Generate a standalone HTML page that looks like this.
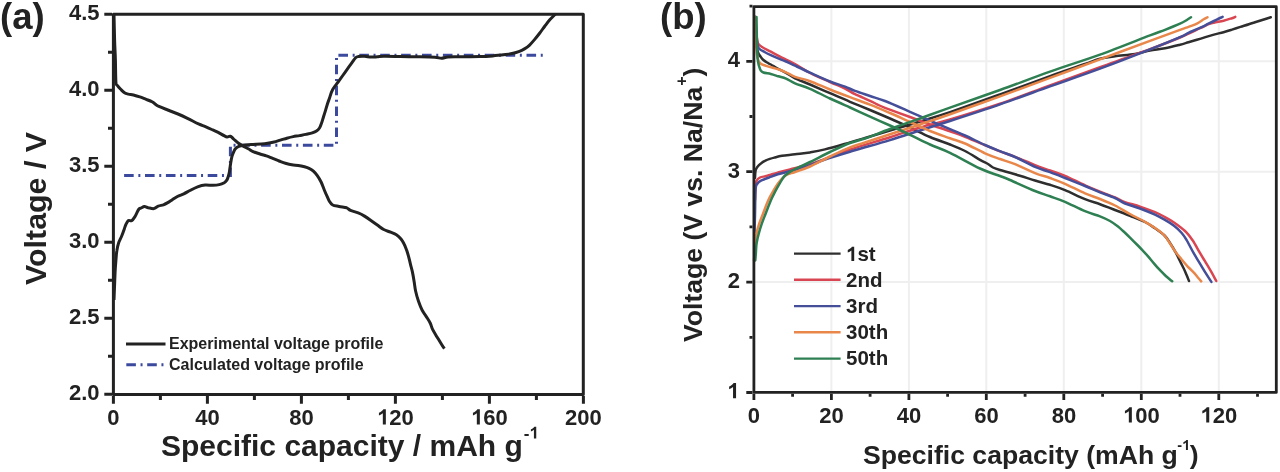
<!DOCTYPE html>
<html><head><meta charset="utf-8"><style>
html,body{margin:0;padding:0;background:#fff;}
svg{display:block;filter:blur(0.55px);}
text{font-family:"Liberation Sans",sans-serif;font-weight:bold;fill:#222;}
</style></head><body>
<svg width="1280" height="472" viewBox="0 0 1280 472">
<defs><path id="one1" d="M819 0H538V1059Q384 915 175 846V1101Q285 1137 414 1237Q543 1337 591 1425H819V0Z" fill="#222"/></defs>
<rect width="1280" height="472" fill="#fff"/>
<!-- Panel A -->
<g fill="none" stroke="#222" stroke-width="3">
<path d="M113.4,14.3H583.3V394.5H113.4Z" stroke-linejoin="round"/>
<path d="M112.0,394.3H104.3 M112.0,356.3H108.0 M112.0,318.3H104.3 M112.0,280.3H108.0 M112.0,242.3H104.3 M112.0,204.3H108.0 M112.0,166.3H104.3 M112.0,128.3H108.0 M112.0,90.3H104.3 M112.0,52.3H108.0 M112.0,14.3H104.3 M113.4,396.0V403.7 M160.4,396.0V400.0 M207.4,396.0V403.7 M254.4,396.0V400.0 M301.4,396.0V403.7 M348.4,396.0V400.0 M395.4,396.0V403.7 M442.4,396.0V400.0 M489.4,396.0V403.7 M536.4,396.0V400.0 M583.4,396.0V403.7" stroke-width="3"/>
</g>
<path d="M124.1,175.4H230.4V145.2H336.5V55.3H543" fill="none" stroke="#3c4a9e" stroke-width="3" stroke-dasharray="9.6,4.65,2,4.65"/>
<path d="M114.0,14.5 C114.1,18.8 114.4,32.4 114.6,40.0 C114.8,47.6 115.2,53.0 115.4,60.0 C115.6,67.0 115.6,77.7 115.9,82.0 C116.2,86.3 116.7,84.4 117.5,85.6 C118.3,86.8 119.5,88.1 120.7,89.3 C121.9,90.5 123.2,92.0 124.5,92.8 C125.8,93.6 126.9,93.7 128.4,94.1 C129.9,94.5 131.5,94.5 133.4,95.0 C135.3,95.5 137.7,96.2 139.8,96.9 C141.9,97.6 144.1,98.6 146.2,99.4 C148.3,100.2 150.8,101.1 152.5,102.0 C154.2,102.9 155.2,104.3 156.3,105.0 C157.4,105.7 157.4,105.7 158.9,106.4 C160.4,107.1 163.2,108.2 165.3,109.0 C167.4,109.8 169.5,110.7 171.6,111.5 C173.7,112.3 175.5,113.0 178.0,114.0 C180.5,115.0 184.0,116.6 186.4,117.8 C188.8,119.0 190.6,119.9 192.7,121.0 C194.8,122.1 197.0,123.2 199.1,124.2 C201.2,125.2 203.3,125.8 205.4,126.7 C207.5,127.6 209.7,128.6 211.8,129.5 C213.9,130.4 216.1,131.3 218.2,132.4 C220.3,133.5 223.0,135.2 224.5,135.9 C226.0,136.7 226.1,136.8 227.1,136.9 C228.1,137.0 229.2,136.0 230.3,136.3 C231.4,136.6 232.0,137.6 233.4,138.8 C234.8,140.0 236.8,142.0 238.5,143.3 C240.2,144.6 241.9,145.5 243.6,146.4 C245.3,147.3 247.2,148.2 248.7,149.0 C250.2,149.8 250.6,150.5 252.5,151.3 C254.4,152.1 257.7,153.2 260.0,154.0 C262.3,154.8 264.3,155.2 266.4,155.9 C268.5,156.6 270.6,157.6 272.7,158.4 C274.8,159.2 277.0,160.2 279.1,161.0 C281.2,161.8 283.3,162.7 285.4,163.3 C287.5,163.9 289.7,164.5 291.8,164.8 C293.9,165.2 296.1,165.1 298.2,165.4 C300.3,165.7 302.6,166.2 304.5,166.7 C306.4,167.2 308.1,167.8 309.6,168.6 C311.1,169.3 312.1,170.0 313.4,171.2 C314.7,172.4 316.0,173.8 317.3,175.6 C318.6,177.4 319.9,179.6 321.1,182.0 C322.3,184.4 323.3,187.6 324.3,190.0 C325.3,192.4 326.1,194.3 327.0,196.2 C327.9,198.1 328.6,200.0 329.5,201.5 C330.4,203.0 331.1,204.2 332.7,205.0 C334.3,205.8 336.8,206.0 339.1,206.5 C341.4,207.0 344.8,207.2 346.7,207.8 C348.6,208.5 348.6,209.6 350.5,210.4 C352.4,211.2 355.9,212.0 358.2,212.9 C360.5,213.8 362.4,214.8 364.5,216.1 C366.6,217.4 368.8,219.0 370.9,220.5 C373.0,222.0 375.2,223.5 377.3,225.0 C379.4,226.5 381.5,228.3 383.7,229.5 C385.9,230.7 388.4,231.3 390.5,232.2 C392.6,233.1 394.6,233.7 396.4,234.8 C398.1,235.9 399.7,237.4 401.0,238.9 C402.3,240.4 403.2,242.1 404.1,244.0 C405.1,245.9 405.9,248.2 406.7,250.3 C407.4,252.4 408.0,254.4 408.6,256.7 C409.2,259.0 409.9,261.8 410.5,264.3 C411.1,266.8 411.8,268.9 412.4,271.9 C413.0,274.8 413.7,278.8 414.2,282.0 C414.7,285.2 414.9,287.8 415.6,291.0 C416.3,294.2 417.4,298.1 418.5,301.3 C419.6,304.5 420.7,307.4 422.2,310.2 C423.7,313.0 426.0,316.1 427.4,318.3 C428.8,320.5 429.5,321.6 430.4,323.5 C431.3,325.4 431.5,327.2 432.6,329.4 C433.7,331.6 435.5,334.4 437.0,336.9 C438.5,339.4 440.3,342.3 441.5,344.3 C442.7,346.3 443.9,348.0 444.4,348.7" fill="none" stroke="#222" stroke-width="3" stroke-linejoin="round"/>
<path d="M114.0,300.0 C114.1,297.8 114.3,291.7 114.5,287.0 C114.7,282.3 114.9,276.4 115.1,272.0 C115.3,267.6 115.6,264.0 115.9,260.5 C116.2,257.0 116.3,253.9 116.8,251.0 C117.2,248.1 117.8,245.4 118.6,243.0 C119.4,240.6 120.5,238.8 121.5,236.5 C122.5,234.2 123.6,231.0 124.3,229.0 C125.0,227.0 125.2,225.9 125.9,224.5 C126.6,223.1 127.5,221.2 128.4,220.6 C129.3,220.0 130.5,221.3 131.6,220.7 C132.7,220.1 133.6,218.8 134.8,216.9 C136.0,215.0 137.5,211.0 138.6,209.5 C139.7,208.0 140.2,208.5 141.2,208.0 C142.2,207.5 143.2,206.6 144.4,206.5 C145.6,206.4 146.6,207.3 148.2,207.7 C149.8,208.0 152.2,208.9 153.9,208.6 C155.6,208.3 156.7,206.7 158.3,206.1 C159.9,205.5 161.9,205.3 163.4,204.8 C164.9,204.3 165.8,203.8 167.3,202.9 C168.8,202.1 170.6,200.8 172.3,199.7 C174.0,198.6 175.5,197.5 177.4,196.5 C179.3,195.5 181.7,194.8 183.8,193.8 C185.9,192.8 187.7,191.7 190.0,190.5 C192.3,189.3 195.1,187.7 197.6,186.8 C200.1,185.9 202.6,185.2 205.2,185.0 C207.8,184.8 210.6,185.4 212.9,185.3 C215.2,185.2 217.3,185.0 219.2,184.6 C221.1,184.2 223.0,183.4 224.3,182.7 C225.6,182.0 226.2,181.1 226.8,180.2 C227.4,179.2 227.7,178.4 228.1,177.0 C228.5,175.6 229.0,174.2 229.4,171.9 C229.8,169.6 230.3,165.5 230.7,163.0 C231.1,160.5 231.4,158.6 231.9,156.7 C232.4,154.8 233.2,153.0 233.8,151.6 C234.4,150.2 234.8,149.3 235.7,148.4 C236.5,147.5 237.6,146.8 238.9,146.3 C240.2,145.8 241.4,145.5 243.4,145.2 C245.4,144.9 248.0,144.8 251.0,144.6 C254.0,144.4 258.6,144.3 261.4,144.1 C264.2,143.9 265.6,143.7 267.7,143.3 C269.8,143.0 272.0,142.5 274.1,142.0 C276.2,141.5 278.3,140.7 280.4,140.1 C282.5,139.5 284.7,138.8 286.8,138.2 C288.9,137.6 291.1,137.0 293.2,136.6 C295.3,136.2 297.4,136.0 299.5,135.6 C301.6,135.2 303.8,134.9 305.9,134.4 C308.0,133.9 310.5,133.4 312.3,132.8 C314.1,132.2 315.3,131.8 316.5,131.0 C317.7,130.2 318.6,129.3 319.5,128.0 C320.4,126.7 320.9,124.8 321.6,122.9 C322.3,121.0 322.9,118.6 323.6,116.5 C324.3,114.4 325.0,112.3 325.6,110.2 C326.2,108.1 326.9,105.7 327.5,103.8 C328.1,101.9 328.3,101.4 329.2,99.0 C330.1,96.6 331.0,92.6 332.7,89.6 C334.4,86.5 337.0,83.7 339.1,80.7 C341.2,77.7 343.3,74.8 345.4,71.8 C347.5,68.8 350.1,65.2 351.8,62.9 C353.5,60.6 354.5,58.9 355.6,57.8 C356.7,56.7 357.1,56.8 358.6,56.5 C360.1,56.2 362.4,56.2 364.5,56.3 C366.6,56.4 368.8,56.9 370.9,57.0 C373.0,57.1 375.2,56.9 377.3,56.8 C379.4,56.7 379.8,56.3 383.6,56.3 C387.4,56.2 393.9,56.4 400.0,56.5 C406.1,56.6 414.2,56.7 420.0,56.8 C425.8,56.9 431.4,57.0 435.0,57.2 C438.6,57.5 439.3,58.3 441.5,58.3 C443.7,58.3 444.9,57.2 448.0,57.0 C451.1,56.8 454.7,56.9 460.0,56.8 C465.3,56.7 474.6,56.6 480.0,56.5 C485.4,56.4 488.5,56.2 492.7,55.9 C496.9,55.6 502.0,55.0 505.4,54.6 C508.8,54.2 510.8,53.8 513.1,53.3 C515.4,52.8 517.5,52.1 519.4,51.4 C521.3,50.7 522.8,49.9 524.5,48.9 C526.2,47.9 527.9,46.7 529.6,45.1 C531.3,43.5 533.0,41.4 534.7,39.4 C536.4,37.4 538.1,35.2 539.8,33.0 C541.5,30.8 543.2,28.2 544.9,26.0 C546.6,23.8 548.2,21.6 550.0,19.6 C551.8,17.6 554.6,14.9 555.5,14.0" fill="none" stroke="#222" stroke-width="3" stroke-linejoin="round"/>
<path d="M126,344H165.5" stroke="#222" stroke-width="3"/>
<path d="M126.3,364.7H164" stroke="#3c4a9e" stroke-width="3" stroke-dasharray="9.6,4.65,2,4.65"/>
<text x="169" y="349" font-size="16">Experimental voltage profile</text>
<text x="169" y="369.5" font-size="16">Calculated voltage profile</text>
<text x="0" y="29" font-size="36.5">(a)</text>
<g font-size="22" text-anchor="end">
<text x="99.6" y="20">4.5</text>
<text x="99.6" y="96">4.0</text>
<text x="99.6" y="172">3.5</text>
<text x="99.6" y="248">3.0</text>
<text x="99.6" y="324">2.5</text>
<text x="99.6" y="400.2">2.0</text>
</g>
<g><text x="107.28" y="424.60" font-size="22">0</text><text x="195.16" y="424.60" font-size="22">4</text><text x="207.40" y="424.60" font-size="22">0</text><text x="289.16" y="424.60" font-size="22">8</text><text x="301.40" y="424.60" font-size="22">0</text><use href="#one1" transform="translate(377.05,424.60) scale(0.01074,-0.01074)"/><text x="389.28" y="424.60" font-size="22">2</text><text x="401.52" y="424.60" font-size="22">0</text><use href="#one1" transform="translate(471.05,424.60) scale(0.01074,-0.01074)"/><text x="483.28" y="424.60" font-size="22">6</text><text x="495.52" y="424.60" font-size="22">0</text><text x="565.05" y="424.60" font-size="22">2</text><text x="577.28" y="424.60" font-size="22">0</text><text x="589.52" y="424.60" font-size="22">0</text></g>
<text x="161" y="456" font-size="30">Specific capacity / mAh g<tspan font-size="17" dx="1" dy="-17.5">-</tspan></text><use href="#one1" transform="translate(529.45,438.50) scale(0.00830,-0.00830)"/>
<text transform="translate(45.5,285) rotate(-90)" font-size="30.4">Voltage / V</text>

<!-- Panel B -->
<path d="M831.4,8V391 M908.9,8V391 M986.3,8V391 M1063.8,8V391 M1141.3,8V391 M1218.8,8V391 M755,282.1H1275 M755,171.7H1275 M755,61.3H1275" stroke="#efefef" stroke-width="2" fill="none"/>
<g fill="none" stroke-width="2.5" stroke-linejoin="round" stroke-linecap="round">
<path d="M755.0,178.0 C755.1,176.8 755.2,172.3 755.6,170.5 C756.0,168.7 756.4,168.1 757.3,166.9 C758.2,165.7 759.5,164.4 760.9,163.4 C762.2,162.4 763.9,161.4 765.4,160.7 C766.9,159.9 768.3,159.4 769.8,158.9 C771.3,158.4 772.3,158.1 774.3,157.6 C776.3,157.1 778.5,156.4 782.0,155.8 C785.5,155.2 790.3,154.9 795.0,154.3 C799.7,153.7 805.0,153.2 810.0,152.4 C815.0,151.6 818.3,151.1 825.0,149.4 C831.7,147.7 843.3,144.3 850.0,142.4 C856.7,140.5 858.3,140.0 865.0,138.0 C871.7,136.0 880.8,133.2 890.0,130.5 C899.2,127.8 910.0,124.6 920.0,121.5 C930.0,118.4 936.7,116.6 950.0,112.1 C963.3,107.6 983.3,100.4 1000.0,94.4 C1016.7,88.4 1035.8,81.2 1050.0,76.1 C1064.2,71.0 1076.7,66.9 1085.0,64.0 C1093.3,61.1 1095.0,60.1 1100.0,58.8 C1105.0,57.5 1109.2,57.1 1115.0,56.3 C1120.8,55.5 1129.2,54.8 1135.0,53.9 C1140.8,53.0 1145.0,51.5 1150.0,50.6 C1155.0,49.7 1160.0,49.3 1165.0,48.3 C1170.0,47.3 1176.1,45.7 1180.0,44.7 C1183.9,43.7 1185.7,43.0 1188.5,42.2 C1191.3,41.4 1194.1,40.6 1196.9,39.7 C1199.7,38.9 1202.6,38.0 1205.4,37.1 C1208.2,36.2 1210.9,35.4 1213.9,34.6 C1216.9,33.8 1220.5,33.0 1223.5,32.2 C1226.5,31.4 1229.2,30.5 1232.0,29.6 C1234.8,28.7 1237.6,27.8 1240.4,26.9 C1243.2,26.0 1246.5,25.0 1248.9,24.2 C1251.3,23.4 1252.7,23.1 1255.0,22.3 C1257.3,21.6 1260.4,20.6 1263.0,19.7 C1265.6,18.8 1269.5,17.6 1270.8,17.2" stroke="#2e2e2e"/>
<path d="M755.5,17.0 C755.6,20.8 756.0,34.7 756.3,40.0 C756.6,45.3 756.8,46.8 757.2,49.0 C757.6,51.2 758.0,52.2 758.5,53.5 C759.0,54.8 759.7,55.4 760.5,56.5 C761.3,57.6 762.3,59.0 763.4,60.0 C764.5,61.0 765.8,61.8 767.0,62.5 C768.2,63.2 768.9,63.4 770.8,64.5 C772.7,65.6 775.7,67.5 778.2,68.9 C780.7,70.3 783.2,71.2 786.0,72.8 C788.8,74.4 791.0,76.3 795.0,78.3 C799.0,80.2 804.2,82.0 810.0,84.5 C815.8,87.0 823.3,90.3 830.0,93.2 C836.7,96.1 843.3,99.0 850.0,101.8 C856.7,104.6 863.3,107.2 870.0,110.0 C876.7,112.8 883.3,115.6 890.0,118.5 C896.7,121.4 903.3,124.4 910.0,127.5 C916.7,130.6 923.3,134.2 930.0,137.0 C936.7,139.8 944.2,142.2 950.0,144.5 C955.8,146.8 960.0,148.4 965.0,151.0 C970.0,153.6 976.2,157.6 980.0,159.8 C983.8,162.0 985.8,162.7 988.0,164.0 C990.2,165.3 991.0,166.5 993.0,167.5 C995.0,168.5 996.3,168.9 1000.0,170.0 C1003.7,171.1 1009.2,172.4 1015.0,174.2 C1020.8,175.9 1029.2,178.7 1035.0,180.5 C1040.8,182.3 1045.0,183.2 1050.0,184.8 C1055.0,186.4 1059.2,187.7 1065.0,190.1 C1070.8,192.5 1079.2,196.8 1085.0,199.1 C1090.8,201.4 1095.0,202.4 1100.0,204.2 C1105.0,206.0 1110.0,208.1 1115.0,210.0 C1120.0,211.9 1125.0,213.8 1130.0,215.8 C1135.0,217.8 1140.8,219.9 1145.0,222.0 C1149.2,224.1 1151.8,226.1 1155.0,228.3 C1158.2,230.6 1162.0,233.1 1164.5,235.5 C1167.0,237.9 1168.1,240.1 1170.0,243.0 C1171.9,245.9 1174.2,249.8 1175.8,252.7 C1177.4,255.6 1178.4,257.9 1179.7,260.5 C1181.0,263.1 1182.4,265.9 1183.6,268.3 C1184.8,270.7 1185.7,273.0 1186.6,275.1 C1187.5,277.2 1188.6,280.0 1189.0,281.0" stroke="#2e2e2e"/>
<path d="M755.0,200.0 C755.1,198.0 755.2,191.2 755.5,188.0 C755.8,184.8 755.8,182.8 756.5,181.0 C757.2,179.2 758.5,178.3 760.0,177.5 C761.5,176.7 763.8,176.7 765.4,176.3 C767.0,175.9 767.7,175.5 769.8,174.9 C771.9,174.3 774.4,173.5 777.8,172.6 C781.2,171.7 784.6,170.9 790.0,169.5 C795.4,168.1 804.2,166.1 810.0,164.3 C815.8,162.5 818.3,161.3 825.0,158.8 C831.7,156.3 839.2,153.1 850.0,149.5 C860.8,145.9 878.3,140.9 890.0,137.2 C901.7,133.5 910.0,130.4 920.0,127.5 C930.0,124.5 936.7,123.5 950.0,119.5 C963.3,115.5 983.3,109.4 1000.0,103.7 C1016.7,98.0 1033.3,91.4 1050.0,85.3 C1066.7,79.2 1083.3,73.2 1100.0,67.2 C1116.7,61.2 1136.7,54.2 1150.0,49.2 C1163.3,44.2 1171.7,41.0 1180.0,37.5 C1188.3,34.0 1195.3,30.4 1200.0,28.2 C1204.7,26.0 1205.7,25.3 1208.0,24.4 C1210.3,23.5 1211.3,23.3 1213.9,22.7 C1216.5,22.1 1220.5,21.4 1223.5,20.7 C1226.5,19.9 1230.0,18.8 1232.0,18.2 C1234.0,17.6 1234.8,17.1 1235.3,16.9" stroke="#d94652"/>
<path d="M755.5,17.0 C755.6,19.7 756.0,29.0 756.3,33.0 C756.6,37.0 757.1,39.2 757.5,41.0 C757.9,42.8 757.6,43.0 758.4,44.0 C759.1,45.0 759.9,45.7 762.0,47.0 C764.1,48.3 767.8,50.1 770.8,51.7 C773.8,53.3 777.5,55.3 780.0,56.6 C782.5,57.9 783.5,58.3 786.0,59.6 C788.5,60.9 791.0,62.0 795.0,64.2 C799.0,66.4 804.2,70.0 810.0,73.0 C815.8,76.0 824.2,79.4 830.0,82.0 C835.8,84.6 840.8,86.5 845.0,88.5 C849.2,90.5 850.8,92.2 855.0,94.2 C859.2,96.2 866.3,99.1 870.0,100.8 C873.7,102.5 874.5,103.1 877.0,104.3 C879.5,105.5 879.5,105.7 885.0,107.8 C890.5,109.9 902.5,114.2 910.0,117.0 C917.5,119.8 923.3,122.1 930.0,124.5 C936.7,126.9 944.2,129.2 950.0,131.3 C955.8,133.4 956.7,133.5 965.0,136.8 C973.3,140.1 991.7,148.0 1000.0,151.3 C1008.3,154.7 1009.2,154.6 1015.0,156.9 C1020.8,159.2 1029.2,162.8 1035.0,165.1 C1040.8,167.4 1045.0,168.7 1050.0,170.5 C1055.0,172.3 1059.2,173.3 1065.0,175.8 C1070.8,178.3 1079.2,182.7 1085.0,185.3 C1090.8,187.9 1095.0,189.6 1100.0,191.6 C1105.0,193.6 1110.8,195.7 1115.0,197.4 C1119.2,199.2 1120.8,200.6 1125.0,202.1 C1129.2,203.6 1135.0,204.9 1140.0,206.6 C1145.0,208.3 1150.9,210.5 1155.0,212.2 C1159.1,213.9 1161.3,215.1 1164.5,216.8 C1167.7,218.5 1170.6,220.1 1174.0,222.5 C1177.4,224.9 1181.9,228.1 1185.0,231.0 C1188.1,233.9 1190.0,236.6 1192.4,240.0 C1194.8,243.4 1197.1,248.1 1199.2,251.7 C1201.3,255.3 1203.1,258.1 1205.1,261.4 C1207.0,264.6 1209.0,267.9 1210.9,271.2 C1212.8,274.5 1215.4,279.4 1216.3,281.0" stroke="#d94652"/>
<path d="M754.5,232.0 C754.6,229.2 754.8,222.1 755.0,215.0 C755.2,207.9 755.2,194.4 755.6,189.2 C756.0,184.0 756.4,185.2 757.3,183.8 C758.2,182.4 759.5,181.5 760.9,180.7 C762.2,179.9 763.9,179.5 765.4,178.9 C766.9,178.3 767.7,178.0 769.8,177.2 C771.9,176.4 774.4,175.3 777.8,174.3 C781.2,173.3 784.6,172.7 790.0,171.2 C795.4,169.7 804.2,167.2 810.0,165.3 C815.8,163.4 818.3,161.8 825.0,159.5 C831.7,157.2 843.3,153.7 850.0,151.7 C856.7,149.7 858.3,149.2 865.0,147.3 C871.7,145.4 880.8,142.9 890.0,140.1 C899.2,137.3 910.0,133.7 920.0,130.5 C930.0,127.3 936.7,125.3 950.0,121.0 C963.3,116.7 983.3,110.2 1000.0,104.4 C1016.7,98.6 1033.3,92.4 1050.0,86.4 C1066.7,80.5 1083.3,74.9 1100.0,68.7 C1116.7,62.5 1136.7,54.7 1150.0,49.4 C1163.3,44.1 1173.6,39.9 1180.0,37.1 C1186.4,34.4 1185.7,34.2 1188.5,32.9 C1191.3,31.6 1194.1,30.4 1196.9,29.1 C1199.7,27.8 1202.6,26.7 1205.4,25.3 C1208.2,23.9 1211.6,22.1 1213.9,21.0 C1216.2,19.9 1217.5,19.2 1219.0,18.5 C1220.5,17.8 1222.0,17.2 1222.6,16.9" stroke="#454f99"/>
<path d="M755.5,17.0 C755.6,20.2 756.0,31.4 756.3,36.0 C756.6,40.6 757.0,42.4 757.5,44.5 C758.0,46.6 757.8,47.2 759.0,48.5 C760.2,49.8 762.5,50.9 764.5,52.0 C766.5,53.1 768.2,54.0 770.8,55.2 C773.4,56.4 777.5,58.2 780.0,59.2 C782.5,60.2 783.5,60.4 786.0,61.5 C788.5,62.6 791.0,63.8 795.0,65.7 C799.0,67.6 804.2,70.1 810.0,72.7 C815.8,75.3 824.2,79.2 830.0,81.5 C835.8,83.8 840.8,85.0 845.0,86.6 C849.2,88.2 850.8,89.3 855.0,90.9 C859.2,92.5 865.0,94.3 870.0,96.0 C875.0,97.7 878.3,98.4 885.0,101.0 C891.7,103.6 902.5,108.5 910.0,111.8 C917.5,115.1 923.3,117.8 930.0,120.7 C936.7,123.6 944.2,126.7 950.0,129.2 C955.8,131.7 959.2,132.9 965.0,135.5 C970.8,138.1 979.2,142.4 985.0,145.0 C990.8,147.6 995.0,149.2 1000.0,151.2 C1005.0,153.2 1009.2,154.4 1015.0,157.0 C1020.8,159.6 1029.2,164.4 1035.0,166.9 C1040.8,169.4 1045.0,170.3 1050.0,172.2 C1055.0,174.0 1059.2,175.7 1065.0,178.0 C1070.8,180.3 1079.2,183.6 1085.0,186.0 C1090.8,188.4 1095.0,190.3 1100.0,192.3 C1105.0,194.3 1110.8,196.1 1115.0,198.0 C1119.2,199.9 1120.8,201.8 1125.0,203.5 C1129.2,205.2 1135.0,206.6 1140.0,208.5 C1145.0,210.4 1150.9,212.8 1155.0,214.7 C1159.1,216.5 1161.3,217.8 1164.5,219.6 C1167.7,221.4 1171.1,223.6 1174.0,225.8 C1176.9,228.0 1179.6,230.6 1181.7,233.0 C1183.8,235.4 1184.6,236.7 1186.6,240.0 C1188.5,243.3 1191.3,249.0 1193.4,252.7 C1195.5,256.4 1197.2,259.1 1199.2,262.4 C1201.2,265.6 1203.1,268.9 1205.1,272.2 C1207.1,275.4 1210.4,280.3 1211.4,281.9" stroke="#454f99"/>
<path d="M754.0,260.5 C754.1,259.2 754.4,256.1 754.6,252.6 C754.8,249.1 755.0,242.8 755.3,239.5 C755.6,236.2 756.0,235.5 756.6,232.9 C757.2,230.3 758.1,227.0 759.2,223.7 C760.3,220.4 761.7,217.1 763.2,213.2 C764.7,209.2 766.7,203.7 768.4,200.0 C770.1,196.3 771.8,193.5 773.4,190.8 C775.0,188.1 776.3,185.8 777.8,183.7 C779.3,181.6 780.8,179.9 782.3,178.4 C783.8,176.9 785.4,175.6 786.7,174.8 C788.0,174.0 788.6,174.0 790.0,173.5 C791.4,173.0 791.7,173.2 795.0,172.0 C798.3,170.8 804.2,169.1 810.0,166.5 C815.8,163.9 823.3,159.7 830.0,156.5 C836.7,153.3 844.2,149.6 850.0,147.3 C855.8,145.0 858.3,144.7 865.0,142.5 C871.7,140.3 880.8,137.2 890.0,134.2 C899.2,131.2 910.0,127.8 920.0,124.5 C930.0,121.2 936.7,119.0 950.0,114.3 C963.3,109.6 983.3,102.4 1000.0,96.3 C1016.7,90.2 1033.3,84.1 1050.0,77.9 C1066.7,71.8 1083.3,65.6 1100.0,59.4 C1116.7,53.2 1136.7,45.8 1150.0,40.9 C1163.3,36.0 1173.6,32.2 1180.0,29.9 C1186.4,27.6 1185.7,27.9 1188.5,26.9 C1191.3,25.8 1194.4,24.9 1196.9,23.6 C1199.4,22.3 1201.9,20.4 1203.7,19.3 C1205.5,18.2 1206.9,17.6 1207.5,17.2" stroke="#e9874a"/>
<path d="M755.5,17.0 C755.6,20.8 755.8,34.5 756.0,40.0 C756.2,45.5 756.2,47.0 756.5,50.0 C756.8,53.0 756.9,55.8 757.5,58.0 C758.1,60.2 759.0,62.2 760.4,63.5 C761.8,64.8 764.1,65.1 766.0,65.8 C767.9,66.5 769.8,66.9 772.0,67.5 C774.2,68.1 776.7,68.7 779.0,69.5 C781.3,70.3 783.3,71.1 786.0,72.3 C788.7,73.5 791.0,75.3 795.0,76.8 C799.0,78.3 804.2,79.1 810.0,81.2 C815.8,83.3 823.3,86.8 830.0,89.5 C836.7,92.2 843.3,94.7 850.0,97.2 C856.7,99.7 863.3,102.0 870.0,104.6 C876.7,107.2 883.3,110.1 890.0,113.0 C896.7,115.9 903.3,119.0 910.0,122.0 C916.7,125.0 923.3,128.3 930.0,131.0 C936.7,133.7 944.2,136.2 950.0,138.3 C955.8,140.4 959.2,141.0 965.0,143.5 C970.8,146.0 979.2,150.7 985.0,153.3 C990.8,155.9 995.0,157.2 1000.0,159.0 C1005.0,160.8 1009.2,161.8 1015.0,164.2 C1020.8,166.5 1029.2,170.8 1035.0,173.1 C1040.8,175.4 1045.0,176.2 1050.0,178.0 C1055.0,179.8 1059.2,181.2 1065.0,183.8 C1070.8,186.4 1079.2,190.9 1085.0,193.4 C1090.8,195.9 1095.0,197.0 1100.0,199.0 C1105.0,201.0 1110.0,203.0 1115.0,205.5 C1120.0,208.0 1125.0,211.3 1130.0,214.0 C1135.0,216.7 1140.8,219.5 1145.0,221.8 C1149.2,224.1 1151.8,225.7 1155.0,228.0 C1158.2,230.3 1162.0,232.9 1164.5,235.5 C1167.0,238.1 1168.1,240.7 1170.0,243.5 C1171.9,246.3 1173.8,249.5 1175.8,252.2 C1177.8,254.9 1179.8,257.1 1181.7,259.5 C1183.7,261.9 1185.5,264.2 1187.5,266.3 C1189.5,268.4 1191.6,270.2 1193.4,272.2 C1195.2,274.1 1197.0,276.5 1198.3,278.0 C1199.6,279.5 1200.7,280.8 1201.2,281.4" stroke="#e9874a"/>
<path d="M755.3,260.5 C755.4,259.2 755.7,255.4 755.9,252.6 C756.1,249.8 756.1,246.5 756.6,243.4 C757.1,240.3 757.7,237.5 758.6,234.2 C759.5,230.9 760.6,227.2 761.8,223.7 C763.0,220.2 764.3,217.1 765.8,213.2 C767.3,209.2 769.5,203.6 771.0,200.0 C772.5,196.4 773.7,194.4 775.1,191.7 C776.5,189.0 778.1,186.2 779.6,183.7 C781.1,181.2 782.5,178.4 784.0,176.6 C785.5,174.8 786.7,174.3 788.5,173.0 C790.3,171.7 791.4,170.8 795.0,169.0 C798.6,167.2 804.2,164.8 810.0,162.0 C815.8,159.2 823.3,155.2 830.0,152.0 C836.7,148.8 844.2,145.2 850.0,143.0 C855.8,140.8 858.3,140.8 865.0,138.5 C871.7,136.2 880.8,132.3 890.0,129.0 C899.2,125.7 910.0,122.1 920.0,118.5 C930.0,114.9 936.7,112.3 950.0,107.6 C963.3,102.8 983.3,96.0 1000.0,90.0 C1016.7,84.0 1033.3,77.5 1050.0,71.6 C1066.7,65.7 1083.3,60.6 1100.0,54.6 C1116.7,48.6 1139.2,39.5 1150.0,35.4 C1160.8,31.3 1160.0,31.8 1165.0,29.8 C1170.0,27.8 1176.7,25.1 1180.0,23.6 C1183.3,22.1 1183.3,22.1 1185.1,21.0 C1186.9,19.9 1190.0,17.8 1191.0,17.2" stroke="#2e7f52"/>
<path d="M756.5,17.0 C756.6,21.7 756.8,38.2 757.0,45.0 C757.2,51.8 757.4,54.8 757.6,58.0 C757.9,61.2 758.2,62.4 758.5,64.0 C758.8,65.6 759.1,66.4 759.5,67.5 C759.9,68.6 760.1,69.7 760.8,70.5 C761.4,71.3 761.7,71.9 763.4,72.5 C765.1,73.1 768.3,73.4 770.8,74.0 C773.3,74.6 775.7,75.5 778.2,76.3 C780.7,77.1 783.2,77.4 786.0,78.6 C788.8,79.8 791.0,81.6 795.0,83.3 C799.0,85.0 804.2,86.3 810.0,88.8 C815.8,91.3 823.3,95.4 830.0,98.5 C836.7,101.6 843.3,104.5 850.0,107.5 C856.7,110.5 863.3,113.6 870.0,116.6 C876.7,119.6 883.3,122.5 890.0,125.5 C896.7,128.5 903.3,131.6 910.0,134.8 C916.7,138.0 923.3,141.5 930.0,144.5 C936.7,147.5 941.7,148.8 950.0,152.8 C958.3,156.8 971.7,164.6 980.0,168.5 C988.3,172.4 995.0,174.1 1000.0,176.0 C1005.0,177.9 1004.2,177.5 1010.0,180.0 C1015.8,182.5 1028.3,188.3 1035.0,191.0 C1041.7,193.7 1045.0,194.5 1050.0,196.3 C1055.0,198.1 1059.2,199.3 1065.0,201.8 C1070.8,204.3 1079.2,208.8 1085.0,211.2 C1090.8,213.6 1095.8,214.7 1100.0,216.3 C1104.2,217.9 1107.0,219.3 1110.0,221.0 C1113.0,222.7 1115.7,224.7 1118.0,226.5 C1120.3,228.3 1122.0,230.0 1124.0,231.8 C1126.0,233.7 1127.8,235.4 1130.0,237.6 C1132.2,239.8 1135.2,242.8 1137.4,245.0 C1139.6,247.2 1141.2,248.9 1143.0,250.8 C1144.8,252.7 1146.5,254.5 1148.3,256.6 C1150.1,258.7 1152.1,261.3 1154.1,263.6 C1156.0,265.9 1158.0,268.1 1160.0,270.2 C1162.0,272.3 1163.8,274.1 1165.8,276.0 C1167.8,277.9 1171.1,280.4 1172.2,281.3" stroke="#2e7f52"/>

</g>
<g fill="none" stroke="#222" stroke-width="2.8" stroke-linejoin="round">
<path d="M753.9,6.7H1276.3V392.4H753.9Z"/>
<path d="M752.5,392.5H746.3 M752.5,337.3H749.5 M752.5,282.1H746.3 M752.5,226.9H749.5 M752.5,171.7H746.3 M752.5,116.5H749.5 M752.5,61.3H746.3 M752.5,6.1H749.5 M753.9,393.8V400.0 M792.6,393.8V396.8 M831.4,393.8V400.0 M870.1,393.8V396.8 M908.9,393.8V400.0 M947.6,393.8V396.8 M986.3,393.8V400.0 M1025.1,393.8V396.8 M1063.8,393.8V400.0 M1102.6,393.8V396.8 M1141.3,393.8V400.0 M1180.0,393.8V396.8 M1218.8,393.8V400.0 M1257.5,393.8V396.8"/>
</g>
<g stroke-width="2.4">
<path d="M794,253.6H840.6" stroke="#2e2e2e"/>
<path d="M794,279.8H840.6" stroke="#d94652"/>
<path d="M794,306.1H840.6" stroke="#454f99"/>
<path d="M794,332.3H840.6" stroke="#e9874a"/>
<path d="M794,358.6H840.6" stroke="#2e7f52"/>
</g>
<g font-size="20.5">
<text x="857.40" y="261">st</text><use href="#one1" transform="translate(846.00,261.00) scale(0.01001,-0.01001)"/>
<text x="846" y="287">2nd</text>
<text x="846" y="313">3rd</text>
<text x="846" y="339">30th</text>
<text x="846" y="365">50th</text>
</g>
<text x="660" y="29" font-size="36.5">(b)</text>
<g font-size="22" text-anchor="end">
<text x="740" y="67">4</text>
<text x="740" y="177.5">3</text>
<text x="740" y="288">2</text>

</g>
<g><text x="747.78" y="422.50" font-size="22">0</text><text x="819.16" y="422.50" font-size="22">2</text><text x="831.40" y="422.50" font-size="22">0</text><text x="896.66" y="422.50" font-size="22">4</text><text x="908.90" y="422.50" font-size="22">0</text><text x="974.16" y="422.50" font-size="22">6</text><text x="986.40" y="422.50" font-size="22">0</text><text x="1051.66" y="422.50" font-size="22">8</text><text x="1063.90" y="422.50" font-size="22">0</text><use href="#one1" transform="translate(1123.05,422.50) scale(0.01074,-0.01074)"/><text x="1135.28" y="422.50" font-size="22">0</text><text x="1147.52" y="422.50" font-size="22">0</text><use href="#one1" transform="translate(1200.45,422.50) scale(0.01074,-0.01074)"/><text x="1212.68" y="422.50" font-size="22">2</text><text x="1224.92" y="422.50" font-size="22">0</text><use href="#one1" transform="translate(727.26,398.30) scale(0.01074,-0.01074)"/></g>
<text x="863" y="463.5" font-size="26.6">Specific capacity (mAh g<tspan font-size="14.5" dx="-0.5" dy="-13.5">-</tspan><tspan font-size="26.6" dx="7.56" dy="13.5">)</tspan></text><use href="#one1" transform="translate(1182.13,450.00) scale(0.00708,-0.00708)"/>
<text transform="translate(702,342) rotate(-90)" font-size="26.6">Voltage (V vs. Na/Na<tspan font-size="16" dx="1" dy="-15">+</tspan><tspan font-size="26.6" dx="0" dy="15">)</tspan></text>
</svg>
</body></html>
